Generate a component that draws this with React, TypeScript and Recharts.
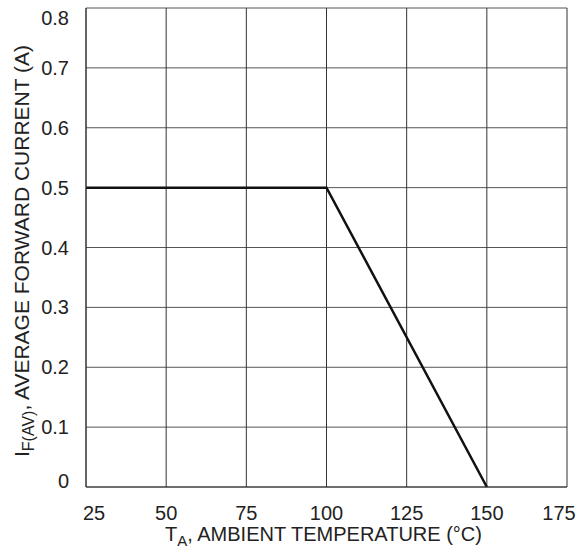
import { LineChart, Line, XAxis, YAxis, CartesianGrid, Label } from "recharts";

const temps = [25, 100, 150];
const currents = [0.5, 0.5, 0];
const xTicks = [25, 50, 75, 100, 125, 150, 175];
const yTicks = [0, 0.1, 0.2, 0.3, 0.4, 0.5, 0.6, 0.7, 0.8];

const data = temps.map((t, i) => ({ t, i: currents[i] }));

const FONT = "'Liberation Sans', Arial, sans-serif";

function XTick({ x, y, payload }: any) {
  const v = payload.value;
  const dx = v === 25 ? 8 : v === 175 ? -8 : 0;
  return (
    <text x={x + dx} y={y + 25} textAnchor="middle" fontFamily={FONT} fontSize={20} fill="#222">
      {v}
    </text>
  );
}

function YTick({ x, y, payload }: any) {
  const v = payload.value;
  const dy = v === 0.8 ? 10 : v === 0 ? -6 : 0;
  return (
    <text x={x - 9} y={y + dy + 7} textAnchor="end" fontFamily={FONT} fontSize={20} fill="#222">
      {v === 0 ? "0" : v.toFixed(1)}
    </text>
  );
}

function YTitle({ viewBox }: any) {
  const cx = 29;
  const cy = 251;
  return (
    <text
      x={cx}
      y={cy}
      transform={`rotate(-90, ${cx}, ${cy})`}
      textAnchor="middle"
      fontFamily={FONT}
      fontSize={21}
      fill="#222"
    >
      <tspan>I</tspan>
      <tspan fontSize={16} dy={5}>F(AV)</tspan>
      <tspan dy={-5}>, AVERAGE FORWARD CURRENT (A)</tspan>
    </text>
  );
}

function XTitle({ viewBox }: any) {
  const cx = viewBox.x + viewBox.width / 2;
  return (
    <text x={cx - 3} y={541} textAnchor="middle" fontFamily={FONT} fontSize={20} fill="#222">
      <tspan>T</tspan>
      <tspan fontSize={15} dy={5}>A</tspan>
      <tspan dy={-5}>, AMBIENT TEMPERATURE (°C)</tspan>
    </text>
  );
}

export default function App() {
  return (
    <div style={{ position: "absolute", left: 0, top: 0, width: 587, height: 548, background: "#fff" }}>
      <LineChart width={587} height={548} data={data} margin={{ top: 8, right: 20, bottom: 0, left: 0 }}>
        <CartesianGrid vertical={false} stroke="#555" strokeWidth={1} />
        <CartesianGrid horizontal={false} stroke="#333" strokeWidth={1} />
        <XAxis
          dataKey="t"
          type="number"
          domain={[25, 175]}
          ticks={xTicks}
          interval={0}
          height={61}
          tickLine={false}
          axisLine={{ stroke: "#333" }}
          tick={<XTick />}
        >
          <Label content={<XTitle />} />
        </XAxis>
        <YAxis
          type="number"
          domain={[0, 0.8]}
          ticks={yTicks}
          interval={0}
          width={86}
          tickLine={false}
          axisLine={{ stroke: "#333" }}
          tick={<YTick />}
        >
          <Label content={<YTitle />} />
        </YAxis>
        <Line
          type="linear"
          dataKey="i"
          stroke="#111"
          strokeWidth={2.5}
          dot={false}
          isAnimationActive={false}
        />
      </LineChart>
    </div>
  );
}
